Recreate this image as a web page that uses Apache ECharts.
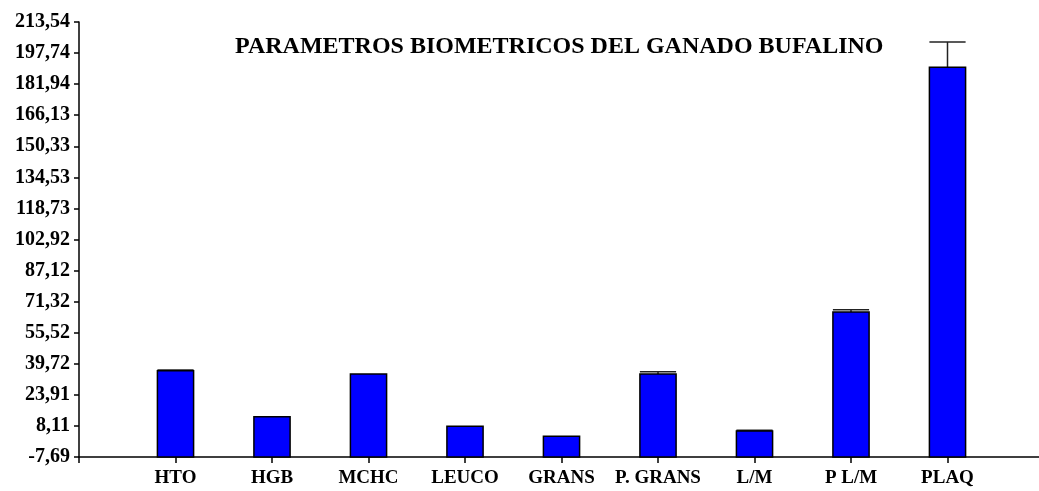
<!DOCTYPE html>
<html>
<head>
<meta charset="utf-8">
<script src="https://cdn.jsdelivr.net/npm/echarts@6/dist/echarts.min.js"></script>
<style>
	html, body { margin: 0; padding: 0; background: #fff; }
	#chart { width: 1039px; height: 491px; }
</style>
</head>
<body>
<div id="chart"></div>
<script>
// datos
const categories = ['HTO', 'HGB', 'MCHC', 'LEUCO', 'GRANS', 'P. GRANS', 'L/M', 'P L/M', 'PLAQ'];
const means = [36.2, 12.8, 34.5, 7.9, 2.8, 34.5, 5.5, 66.1, 190.5];
const errors = [0.3, 0, 0, 0, 0, 1.2, 0.4, 1.1, 12.9];
const yTicks = [-7.69, 8.11, 23.91, 39.72, 55.52, 71.32, 87.12, 102.92, 118.73, 134.53, 150.33, 166.13, 181.94, 197.74, 213.54];

const yMin = yTicks[0];
const yMax = yTicks[yTicks.length - 1];
const serif = '"Liberation Serif", "Times New Roman", serif';

// eje con un hueco vacio a cada lado
let xData = [''].concat(categories, ['']);

let data = [];
for (let i = 0; i < categories.length; i++) {
	data.push([i + 1, means[i], errors[i]]);
}

function renderBar(params, api) {
	let idx = api.value(0);
	let val = api.value(1);
	let err = api.value(2);
	let top = api.coord([idx, val]);
	let base = api.coord([idx, yMin]);
	let band = api.size([1, 0])[0];
	let w = band * 0.375;
	let children = [];
	if (err > 0) {
		let eTop = api.coord([idx, val + err]);
		children.push({
			type: 'line',
			shape: { x1: top[0], y1: top[1], x2: eTop[0], y2: eTop[1] },
			style: { stroke: '#222', lineWidth: 1.5 }
		});
		children.push({
			type: 'line',
			shape: { x1: eTop[0] - w / 2, y1: eTop[1], x2: eTop[0] + w / 2, y2: eTop[1] },
			style: { stroke: '#222', lineWidth: 1.5 }
		});
	}
	children.push({
		type: 'rect',
		shape: { x: top[0] - w / 2, y: top[1], width: w, height: base[1] - top[1] },
		style: { fill: '#0000ff', stroke: '#000', lineWidth: 1.5 }
	});
	return { type: 'group', children: children };
}

let myChart = echarts.init(document.getElementById('chart'));
let option = {
	animation: false,
	backgroundColor: '#fff',
	title: {
		text: 'PARAMETROS BIOMETRICOS DEL GANADO BUFALINO',
		left: 230,
		top: 30,
		textStyle: {
			color: '#000',
			fontFamily: serif,
			fontWeight: 'bold',
			fontSize: 24
		}
	},
	grid: {
		left: 79,
		width: 965,
		top: 22,
		bottom: 34,
		outerBoundsMode: 'none'
	},
	xAxis: {
		type: 'category',
		data: xData,
		boundaryGap: false,
		axisLine: {
			onZero: false,
			lineStyle: { color: '#000', width: 1.5 }
		},
		axisTick: {
			length: 6,
			interval: 0,
			lineStyle: { color: '#000', width: 1.5 }
		},
		axisLabel: {
			interval: 0,
			color: '#000',
			fontFamily: serif,
			fontWeight: 'bold',
			fontSize: 19,
			margin: 12
		},
		splitLine: { show: false }
	},
	yAxis: {
		type: 'value',
		min: yMin,
		max: yMax,
		axisLine: {
			show: true,
			lineStyle: { color: '#000', width: 1.5 }
		},
		axisTick: {
			show: true,
			length: 5,
			customValues: yTicks,
			lineStyle: { color: '#000', width: 1.5 }
		},
		axisLabel: {
			customValues: yTicks,
			color: '#000',
			fontFamily: serif,
			fontWeight: 'bold',
			fontSize: 20,
			margin: 9,
			formatter: function (v) {
				return v.toFixed(2).replace('.', ',');
			}
		},
		splitLine: { show: false }
	},
	series: [{
		type: 'custom',
		renderItem: renderBar,
		data: data,
		encode: { x: 0, y: 1 },
		clip: false
	}]
};
myChart.setOption(option);
</script>
</body>
</html>
